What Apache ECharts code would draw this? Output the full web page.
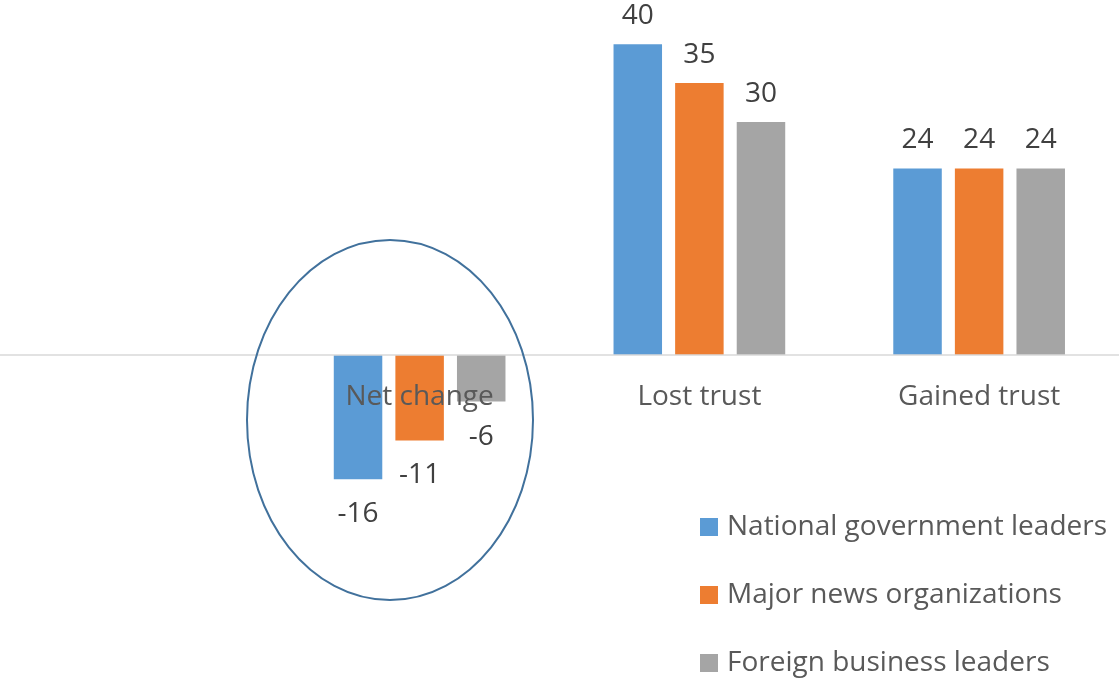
<!DOCTYPE html>
<html>
<head>
<meta charset="utf-8">
<script src="https://cdn.jsdelivr.net/npm/echarts@6/dist/echarts.min.js"></script>
<style>
html,body{margin:0;padding:0;background:#fff;}
#chart{width:1119px;height:678px;}
</style>
</head>
<body>
<div id="chart"></div>
<script>
const categories = ['', 'Net change', 'Lost trust', 'Gained trust'];
const seriesNames = ['National government leaders', 'Major news organizations', 'Foreign business leaders'];
const nationalGov = [null, -16, 40, 24];
const majorNews = [null, -11, 35, 24];
const foreignBiz = [null, -6, 30, 24];
const colors = ['#5B9BD5', '#ED7D31', '#A5A5A5'];

const FONT = '"Open Sans", "Noto Sans", sans-serif';
const allValues = [nationalGov, majorNews, foreignBiz];

const yMin = -30, yMax = 45;
const gridTop = 5.35, gridHeight = 582.75;
const zeroOffset = -(0 - yMin) * gridHeight / (yMax - yMin);

function toData(arr) {
  return arr.map(v => v === null ? '-' : {
    value: v,
    label: { position: v < 0 ? 'bottom' : 'top', distance: v < 0 ? 21 : 14 }
  });
}

const chart = echarts.init(document.getElementById('chart'));
chart.setOption({
  backgroundColor: '#ffffff',
  animation: false,
  grid: { left: 0, right: 0, top: gridTop, height: gridHeight, containLabel: false },
  xAxis: {
    type: 'category',
    data: categories,
    offset: zeroOffset,
    axisLine: { show: true, onZero: false, lineStyle: { color: '#D9D9D9', width: 1.5 } },
    axisTick: { show: false },
    axisLabel: { color: '#595959', fontSize: 28, fontFamily: FONT, margin: 28 },
    z: 5
  },
  yAxis: {
    type: 'value',
    min: yMin, max: yMax,
    show: false,
    splitLine: { show: false }
  },
  legend: {
    orient: 'vertical',
    left: 700,
    top: 513,
    padding: 0,
    itemWidth: 18,
    itemHeight: 18,
    itemGap: 40,
    icon: 'rect',
    data: seriesNames,
    textStyle: { color: '#595959', fontSize: 28, fontFamily: FONT, lineHeight: 28, padding: [0, 0, 0, 4] }
  },
  series: seriesNames.map((name, i) => ({
    name: name,
    type: 'bar',
    data: toData(allValues[i]),
    barWidth: 48.5,
    barGap: '27%',
    itemStyle: { color: colors[i] },
    label: { show: true, color: '#404040', fontSize: 28, fontFamily: FONT }
  })),
  graphic: [{
    type: 'ellipse',
    shape: { cx: 390, cy: 420, rx: 143, ry: 180 },
    style: { fill: 'none', stroke: '#41719C', lineWidth: 2 },
    z: 100
  }]
});
</script>
</body>
</html>
